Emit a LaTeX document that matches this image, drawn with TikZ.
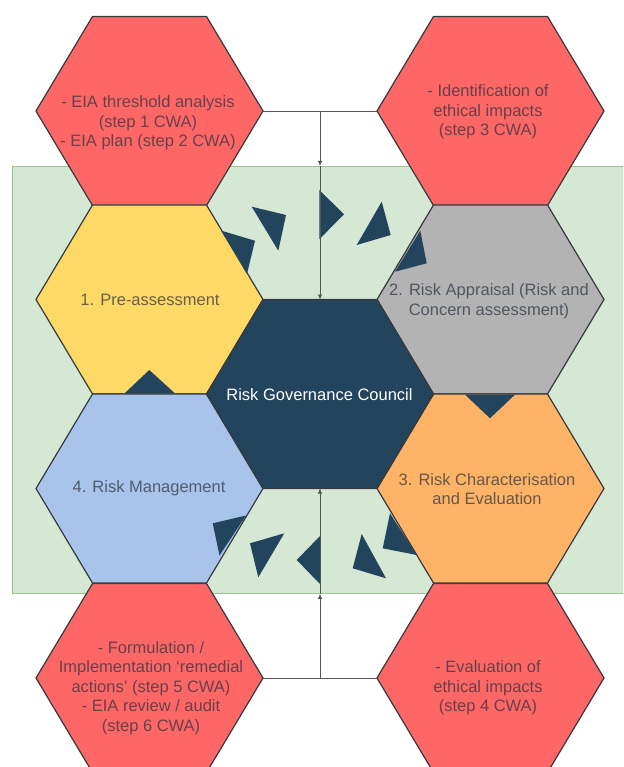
\documentclass[tikz,border=0pt]{standalone}
\usepackage{fontspec}
\setmainfont{Liberation Sans}
\usetikzlibrary{arrows.meta,calc}
\definecolor{hexred}{HTML}{FF6666}
\definecolor{hexyellow}{HTML}{FFD966}
\definecolor{hexgrey}{HTML}{B3B3B3}
\definecolor{hexblue}{HTML}{A9C4EB}
\definecolor{hexorange}{HTML}{FFB366}
\definecolor{navy}{HTML}{23445D}
\definecolor{txtdark}{HTML}{2B3440}
\definecolor{zonefill}{HTML}{D5E8D4}
\definecolor{zoneline}{HTML}{9CC28F}
\definecolor{hexborder}{HTML}{36393D}
\definecolor{connline}{HTML}{555555}
\tikzset{
  hexline/.style={draw=hexborder, line width=1.2pt, line join=miter},
  lbl/.style={align=center, text=txtdark, text opacity=0.72, inner sep=0pt,
    font=\fontsize{16.5}{19.5}\selectfont},
  wlbl/.style={lbl, text=white, text opacity=1},
  zonebox/.style={draw=zoneline, fill=zonefill, line width=0.8pt, inner sep=0pt},
  conn/.style={draw=connline, line width=0.8pt},
  arr/.style={conn, -{Latex[length=5pt,width=4.5pt]}}
}
\newcommand\hexcell[4]{%
  \draw[hexline, fill=#4] (#2-113.5,#3) -- (#2-57,#3-94.5) -- (#2+57,#3-94.5)
    -- (#2+113.5,#3) -- (#2+57,#3+94.5) -- (#2-57,#3+94.5) -- cycle;
  \coordinate (#1) at (#2,#3);
  \coordinate (#1-w) at (#2-113.5,#3);
  \coordinate (#1-e) at (#2+113.5,#3);
  \coordinate (#1-n) at (#2,#3-94.5);
  \coordinate (#1-s) at (#2,#3+94.5);
}
\begin{document}
\begin{tikzpicture}[x=1pt,y=-1pt]
\clip (0,0) rectangle (623,767);
\fill[white] (0,0) rectangle (623,767);
% green zone
\node[zonebox, anchor=north west, minimum width=620pt, minimum height=427pt] (zone) at (12,166) {};
% hexagons
\hexcell{tl}{149.5}{111}{hexred}
\hexcell{tr}{490.5}{111}{hexred}
\hexcell{bl}{149.5}{678}{hexred}
\hexcell{br}{490.5}{678}{hexred}
\hexcell{pre}{149.5}{299.5}{hexyellow}
\fill[navy] (124.5,393.4) -- (149.3,370) -- (175,393.4) -- cycle;
\hexcell{man}{149.5}{488.5}{hexblue}
\hexcell{app}{490.5}{299.5}{hexgrey}
\hexcell{cha}{490.5}{488.5}{hexorange}
\hexcell{ctr}{320}{394}{navy}
% triangles
\fill[navy] (465,394.6) -- (515,394.6) -- (490,418.3) -- cycle;
\fill[navy] (251.7,206.7) -- (286,215) -- (278.3,250.7) -- cycle;
\fill[navy] (221.3,230.7) -- (255,240.7) -- (247,274) -- cycle;
\fill[navy] (319.3,190) -- (344,214.3) -- (319.3,239.3) -- cycle;
\fill[navy] (381.7,201.7) -- (390.7,235) -- (356.7,245) -- cycle;
\fill[navy] (420.3,230.7) -- (426.7,263.3) -- (395,271.7) -- cycle;
\fill[navy] (212.7,523.3) -- (246,515.5) -- (219.5,555.5) -- cycle;
\fill[navy] (250,543.3) -- (284.3,533.3) -- (258.3,577.3) -- cycle;
\fill[navy] (296.7,560) -- (320,536) -- (320,584) -- cycle;
\fill[navy] (352.7,568.3) -- (361.7,534) -- (386,578.3) -- cycle;
\fill[navy] (390,513.3) -- (382.7,548.3) -- (416.7,555) -- cycle;
% connectors
\coordinate (topmid) at ($(tl-e)!0.5!(tr-w)$);
\coordinate (botmid) at ($(bl-e)!0.5!(br-w)$);
\draw[conn] (tl-e) -- (tr-w);
\draw[arr] (topmid) -- (topmid |- zone.north);
\draw[arr] (topmid |- zone.north) -- (ctr-n);
\draw[conn] (bl-e) -- (br-w);
\draw[arr] (botmid) -- (botmid |- zone.south);
\draw[arr] (botmid |- zone.south) -- (ctr-s);
% labels
\node[lbl] (tltext) at (148,123) {- EIA threshold analysis\\(step 1 CWA)\\- EIA plan (step 2 CWA)};
\node[lbl] (trtext) at (488,112) {- Identification of\\ethical impacts\\(step 3 CWA)};
\node[lbl] (pretext) at (150,300) {1. Pre-assessment};
\node[lbl] (apptext) at (489,301) {2. Risk Appraisal (Risk and\\Concern assessment)};
\node[wlbl] (ctrtext) at (319.5,395) {Risk Governance Council};
\node[lbl] (chatext) at (487,489) {3. Risk Characterisation\\and Evaluation};
\node[lbl] (mantext) at (149,488) {4. Risk Management};
\node[lbl] (bltext) at (151,688) {- Formulation /\\Implementation ‘remedial\\actions’ (step 5 CWA)\\- EIA review / audit\\(step 6 CWA)};
\node[lbl] (brtext) at (488,688) {- Evaluation of\\ethical impacts\\(step 4 CWA)};
\end{tikzpicture}
\end{document}
